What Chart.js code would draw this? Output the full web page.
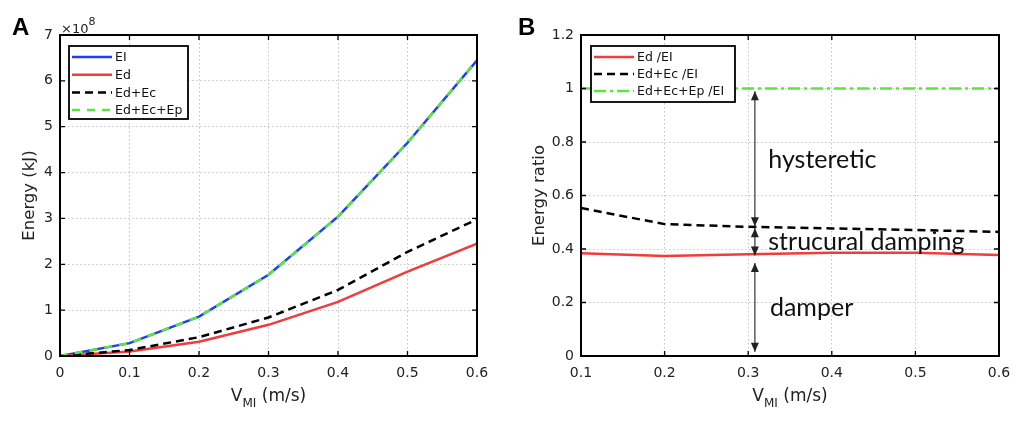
<!DOCTYPE html>
<html><head><meta charset="utf-8">
<script src="https://cdn.jsdelivr.net/npm/chart.js@4.4.0/dist/chart.umd.min.js"></script>
<style>
html,body{margin:0;padding:0;background:#fff;width:1024px;height:427px;overflow:hidden}
#wa{position:absolute;left:0;top:0;width:512px;height:427px}
#wb{position:absolute;left:512px;top:0;width:512px;height:427px}
canvas{display:block}
</style></head><body>
<div id="wa"><canvas id="ca" width="512" height="427"></canvas></div>
<div id="wb"><canvas id="cb" width="512" height="427"></canvas></div>
<script>
// ---- Panel A data (energy, x1e8 kJ) ----
const velA    = [0, 0.1, 0.2, 0.3, 0.4, 0.5, 0.6];
const EI      = [0, 0.28, 0.86, 1.77, 3.04, 4.65, 6.45];
const Ed      = [0, 0.10, 0.31, 0.68, 1.18, 1.84, 2.45];
const EdEc    = [0, 0.13, 0.41, 0.84, 1.44, 2.27, 2.98];
const EdEcEp  = [0, 0.28, 0.86, 1.77, 3.04, 4.65, 6.45];
const labelsA = ['EI', 'Ed', 'Ed+Ec', 'Ed+Ec+Ep'];
// ---- Panel B data (energy ratio) ----
const velB    = [0.1, 0.2, 0.3, 0.4, 0.5, 0.6];
const rEd     = [0.384, 0.374, 0.380, 0.386, 0.386, 0.378];
const rEdEc   = [0.553, 0.493, 0.483, 0.477, 0.471, 0.464];
const rEdEcEp = [1, 1, 1, 1, 1, 1];
const labelsB = ['Ed /EI', 'Ed+Ec /EI', 'Ed+Ec+Ep /EI'];
// annotation arrows (x value, from, to) and texts
const arrowX = 0.308;
const arrows = [[0.485, 0.99], [0.478, 0.376], [0.348, 0.016]];
const notes = [['hysteretic', 0.324, 0.733], ['strucural damping', 0.324, 0.428], ['damper', 0.326, 0.18]];

const FONT = "'DejaVu Sans', sans-serif";
Chart.defaults.font.family = FONT;
Chart.defaults.color = '#222';

const pts = (xs, ys) => xs.map((x, i) => ({x, y: ys[i]}));
const fmt = v => String(+Number(v).toFixed(2));

const framePlugin = {
  id: 'frame',
  afterDraw(chart) {
    const {ctx, chartArea: a, scales: {x, y}} = chart;
    ctx.save();
    ctx.strokeStyle = '#000';
    ctx.lineWidth = 1.3;
    ctx.beginPath();
    x.ticks.forEach(t => {
      const p = x.getPixelForValue(t.value);
      ctx.moveTo(p, a.bottom); ctx.lineTo(p, a.bottom - 5);
      ctx.moveTo(p, a.top); ctx.lineTo(p, a.top + 5);
    });
    y.ticks.forEach(t => {
      const p = y.getPixelForValue(t.value);
      ctx.moveTo(a.left, p); ctx.lineTo(a.left + 5, p);
      ctx.moveTo(a.right, p); ctx.lineTo(a.right - 5, p);
    });
    ctx.stroke();
    ctx.lineWidth = 2;
    ctx.strokeRect(a.left, a.top, a.right - a.left, a.bottom - a.top);
    ctx.restore();
  }
};

const legendPlugin = {
  id: 'boxLegend',
  afterDraw(chart, args, o) {
    const {ctx, chartArea: a} = chart;
    const L = a.left + o.dx, T = a.top + o.dy;
    ctx.save();
    ctx.fillStyle = '#fff';
    ctx.fillRect(L, T, o.w, o.h);
    ctx.strokeStyle = '#000';
    ctx.lineWidth = 1.8;
    ctx.strokeRect(L, T, o.w, o.h);
    chart.data.datasets.forEach((ds, i) => {
      const yy = T + o.row0 + i * o.rowH;
      ctx.save();
      ctx.strokeStyle = ds.borderColor;
      ctx.lineWidth = ds.borderWidth;
      ctx.setLineDash(ds.borderDash || []);
      ctx.beginPath();
      ctx.moveTo(L + 3, yy); ctx.lineTo(L + 43, yy);
      ctx.stroke();
      ctx.restore();
      ctx.fillStyle = '#111';
      ctx.font = o.fontSize + 'px ' + FONT;
      ctx.textBaseline = 'middle';
      ctx.textAlign = 'left';
      ctx.fillText(ds.label, L + 46, yy + 1);
    });
    ctx.restore();
  }
};

function drawVTitle(ctx, cx, base) {
  ctx.save();
  ctx.fillStyle = '#222';
  ctx.textBaseline = 'alphabetic';
  ctx.textAlign = 'left';
  ctx.font = '17px ' + FONT;
  const w1 = ctx.measureText('V').width;
  ctx.font = '12px ' + FONT;
  const w2 = ctx.measureText('MI').width;
  ctx.font = '17px ' + FONT;
  const w3 = ctx.measureText(' (m/s)').width;
  let x0 = cx - (w1 + w2 + w3) / 2;
  ctx.fillText('V', x0, base);
  ctx.font = '12px ' + FONT;
  ctx.fillText('MI', x0 + w1, base + 6);
  ctx.font = '17px ' + FONT;
  ctx.fillText(' (m/s)', x0 + w1 + w2, base);
  ctx.restore();
}
function drawYTitle(ctx, x, cy, text) {
  ctx.save();
  ctx.translate(x, cy);
  ctx.rotate(-Math.PI / 2);
  ctx.fillStyle = '#222';
  ctx.font = '16.5px ' + FONT;
  ctx.textAlign = 'center';
  ctx.textBaseline = 'middle';
  ctx.fillText(text, 0, 0);
  ctx.restore();
}
function drawLetter(ctx, x, text) {
  ctx.save();
  ctx.fillStyle = '#000';
  ctx.font = "bold 24px 'Liberation Sans', Arial, sans-serif";
  ctx.textBaseline = 'alphabetic';
  ctx.fillText(text, x, 35);
  ctx.restore();
}

const textsA = {
  id: 'textsA',
  afterDraw(chart) {
    const {ctx, chartArea: a} = chart;
    drawLetter(ctx, 12, 'A');
    ctx.save();
    ctx.fillStyle = '#222';
    ctx.font = '13px ' + FONT;
    ctx.fillText('\u00d710', a.left + 1, 33);
    const w = ctx.measureText('\u00d710').width;
    ctx.font = '11px ' + FONT;
    ctx.fillText('8', a.left + 1 + w, 25);
    ctx.restore();
    drawVTitle(ctx, (a.left + a.right) / 2, 401);
    drawYTitle(ctx, 30, (a.top + a.bottom) / 2, 'Energy (kJ)');
  }
};

const textsB = {
  id: 'textsB',
  afterDraw(chart) {
    const {ctx, chartArea: a, scales: {x, y}} = chart;
    drawLetter(ctx, 6, 'B');
    drawVTitle(ctx, (a.left + a.right) / 2, 401);
    drawYTitle(ctx, 28, (a.top + a.bottom) / 2, 'Energy ratio');
    // arrows
    const px = x.getPixelForValue(arrowX);
    ctx.save();
    ctx.strokeStyle = '#333';
    ctx.fillStyle = '#222';
    ctx.lineWidth = 1.2;
    const head = (yTip, dir) => {
      ctx.beginPath();
      ctx.moveTo(px, yTip);
      ctx.lineTo(px - 4, yTip - dir * 9);
      ctx.lineTo(px + 4, yTip - dir * 9);
      ctx.closePath();
      ctx.fill();
    };
    arrows.forEach(([v1, v2]) => {
      const p1 = y.getPixelForValue(v1), p2 = y.getPixelForValue(v2);
      ctx.beginPath();
      ctx.moveTo(px, p1); ctx.lineTo(px, p2);
      ctx.stroke();
      const top = Math.min(p1, p2), bot = Math.max(p1, p2);
      head(top, -1);
      head(bot, 1);
    });
    ctx.fillStyle = '#111';
    ctx.font = "25px Lato, 'Open Sans', sans-serif";
    ctx.textBaseline = 'middle';
    ctx.textAlign = 'left';
    notes.forEach(([t, vx, vy]) => ctx.fillText(t, x.getPixelForValue(vx), y.getPixelForValue(vy)));
    ctx.restore();
  }
};

function scalesCfg(xmin, xmax, ymax, ystep, yw) {
  const gridCommon = {color: '#c4c4c4', lineWidth: 1, drawTicks: false};
  const border = {display: false, dash: [1.5, 2.5]};
  return {
    x: {type: 'linear', min: xmin, max: xmax,
        ticks: {stepSize: 0.1, padding: 9, autoSkip: false, maxRotation: 0, font: {size: 14}, callback: fmt},
        grid: gridCommon, border,
        afterFit(s) { s.height = 71; }},
    y: {type: 'linear', min: 0, max: ymax,
        ticks: {stepSize: ystep, padding: 7, font: {size: 14}, callback: fmt},
        grid: gridCommon, border,
        afterFit(s) { s.width = yw; }}
  };
}

const common = (legendOpts) => ({
  responsive: false, animation: false, events: [],
  layout: {padding: {top: 35, right: 35, bottom: 0, left: 0}},
  elements: {point: {radius: 0}, line: {tension: 0}},
  plugins: {legend: {display: false}, tooltip: {enabled: false}, boxLegend: legendOpts}
});

const optsA = common({dx: 9, dy: 11, w: 119, h: 73, row0: 11, rowH: 17.7, fontSize: 12.5});
optsA.layout.padding.right = 512 - 477;
optsA.scales = scalesCfg(0, 0.6, 7, 1, 60);

new Chart(document.getElementById('ca'), {
  type: 'line',
  data: {datasets: [
    {label: labelsA[0], data: pts(velA, EI), borderColor: '#1f3cff', borderWidth: 2.5, order: 4},
    {label: labelsA[1], data: pts(velA, Ed), borderColor: '#f03c3c', borderWidth: 2.5, order: 3},
    {label: labelsA[2], data: pts(velA, EdEc), borderColor: '#000', borderWidth: 2.5, borderDash: [8, 5], order: 2},
    {label: labelsA[3], data: pts(velA, EdEcEp), borderColor: '#5ae63c', borderWidth: 2.5, borderDash: [8, 7], order: 1}
  ]},
  options: optsA,
  plugins: [framePlugin, legendPlugin, textsA]
});

const optsB = common({dx: 10, dy: 11, w: 144, h: 56, row0: 11, rowH: 17, fontSize: 12.5});
optsB.layout.padding.right = 512 - 487;
optsB.scales = scalesCfg(0.1, 0.6, 1.2, 0.2, 69);

new Chart(document.getElementById('cb'), {
  type: 'line',
  data: {datasets: [
    {label: labelsB[0], data: pts(velB, rEd), borderColor: '#f03c3c', borderWidth: 2.5, order: 3},
    {label: labelsB[1], data: pts(velB, rEdEc), borderColor: '#000', borderWidth: 2.5, borderDash: [8, 5], order: 2},
    {label: labelsB[2], data: pts(velB, rEdEcEp), borderColor: '#5ae63c', borderWidth: 2.5, borderDash: [12, 4, 3, 4], order: 1}
  ]},
  options: optsB,
  plugins: [framePlugin, legendPlugin, textsB]
});
</script>
</body></html>
